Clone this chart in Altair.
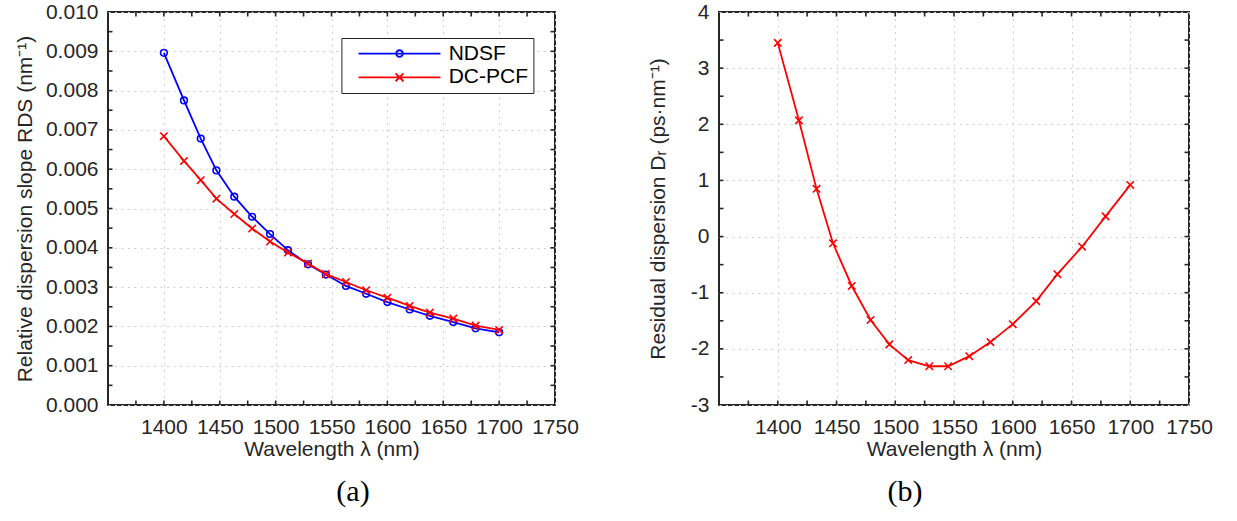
import altair as alt
import pandas as pd

# ---------------- data ----------------
wavelength = [1400, 1418, 1433, 1447, 1463, 1479, 1495, 1511, 1529,
              1545, 1563, 1581, 1600, 1620, 1638, 1659, 1679, 1700]
rds_ndsf = [0.00896, 0.00775, 0.00678, 0.00597, 0.00530, 0.00479, 0.00435, 0.00394, 0.00358,
            0.00332, 0.00303, 0.00283, 0.00262, 0.00243, 0.00227, 0.00211, 0.00195, 0.00185]
rds_dcpcf = [0.00684, 0.00621, 0.00572, 0.00525, 0.00486, 0.00449, 0.00416, 0.00388, 0.00360,
             0.00333, 0.00313, 0.00292, 0.00273, 0.00252, 0.00235, 0.00220, 0.00202, 0.00191]
residual_dispersion = [3.45, 2.07, 0.85, -0.12, -0.88, -1.485, -1.92, -2.20, -2.31,
                       -2.31, -2.13, -1.88, -1.56, -1.15, -0.67, -0.18, 0.36, 0.92]
series_names = ["NDSF", "DC-PCF"]
series_colors = ["#0000ff", "#ff0000"]

x_label_values = [1400, 1450, 1500, 1550, 1600, 1650, 1700, 1750]
x_tick_values = [1375, 1400, 1425, 1450, 1475, 1500, 1525, 1550, 1575,
                 1600, 1625, 1650, 1675, 1700, 1725]
rds_label_values = [0.000, 0.001, 0.002, 0.003, 0.004, 0.005, 0.006,
                    0.007, 0.008, 0.009, 0.010]
rds_tick_values = [0.0005, 0.0010, 0.0015, 0.0020, 0.0025, 0.0030, 0.0035, 0.0040, 0.0045,
                   0.0050, 0.0055, 0.0060, 0.0065, 0.0070, 0.0075, 0.0080, 0.0085, 0.0090, 0.0095]
dr_label_values = [-3, -2, -1, 0, 1, 2, 3, 4]
dr_tick_values = [-2.5, -2, -1.5, -1, -0.5, 0, 0.5, 1, 1.5, 2, 2.5, 3, 3.5]

# ---------------- styling ----------------
FONT = "Liberation Sans"
INK = "#262626"
W1, W2, H = 447, 470, 393
TL = 4.5
XPATH = "M-1,-1L1,1M-1,1L1,-1"
LEG_NDSF = ("M-4.55,0L4.55,0M-0.37,0A0.37,0.37,0,1,0,0.37,0"
            "A0.37,0.37,0,1,0,-0.37,0")
LEG_DCPCF = "M-4.55,0L4.55,0M-0.44,-0.44L0.44,0.44M-0.44,0.44L0.44,-0.44"

XSCALE = alt.Scale(domain=[1350, 1750], nice=False)
RDS_SCALE = alt.Scale(domain=[0, 0.010], nice=False)
DR_SCALE = alt.Scale(domain=[-3, 4], nice=False)
COLOR_SCALE = alt.Scale(domain=series_names, range=series_colors)

rds_df = pd.DataFrame({
    "wavelength": wavelength * 2,
    "rds": rds_ndsf + rds_dcpcf,
    "series": [series_names[0]] * len(wavelength) + [series_names[1]] * len(wavelength),
})
dr_df = pd.DataFrame({"wavelength": wavelength, "dr": residual_dispersion})


def x_axis():
    return alt.Axis(values=x_label_values, format="d", title="Wavelength λ (nm)",
                    grid=True, ticks=False, domain=False, labelOverlap=False,
                    labelPadding=11, titlePadding=1, labelFlush=False)


def tick_layers(y_ticks, yscale, w, h):
    xt = pd.DataFrame({"t": x_tick_values})
    yt = pd.DataFrame({"t": y_ticks})
    rule = dict(color=INK, strokeWidth=1.6)
    xenc = alt.X("t:Q", scale=XSCALE)
    yenc = alt.Y("t:Q", scale=yscale)
    return [
        alt.Chart(xt).mark_rule(**rule).encode(x=xenc, y=alt.value(h), y2=alt.value(h - TL)),
        alt.Chart(xt).mark_rule(**rule).encode(x=xenc, y=alt.value(0), y2=alt.value(TL)),
        alt.Chart(yt).mark_rule(**rule).encode(y=yenc, x=alt.value(0), x2=alt.value(TL)),
        alt.Chart(yt).mark_rule(**rule).encode(y=yenc, x=alt.value(w - TL), x2=alt.value(w)),
    ]


def series_layers(name, color, shape, size):
    base = alt.Chart(rds_df).transform_filter(alt.datum.series == name)
    line = base.mark_line(strokeWidth=1.8, color=color).encode(
        x=alt.X("wavelength:Q", scale=XSCALE), y=alt.Y("rds:Q", scale=RDS_SCALE))
    pts = base.mark_point(shape=shape, size=size, filled=False, strokeWidth=1.6,
                          color=color, opacity=1).encode(
        x=alt.X("wavelength:Q", scale=XSCALE), y=alt.Y("rds:Q", scale=RDS_SCALE))
    return [line, pts]


# ---------------- panel (a) ----------------
# invisible carrier layer that owns both axes of panel (a)
axes_a = alt.Chart(rds_df).mark_point(opacity=0, size=0).encode(
    x=alt.X("wavelength:Q", scale=XSCALE, axis=x_axis()),
    y=alt.Y("rds:Q", scale=RDS_SCALE,
            axis=alt.Axis(values=rds_label_values, format=".3f", tickCount=11,
                          title="Relative dispersion slope RDS (nm⁻¹)",
                          grid=True, ticks=False, domain=False, labelOverlap=False,
                          labelPadding=10, titlePadding=10, labelFlush=False)),
)

legend_params = dict(
    title=None, orient="none", legendX=233.4, legendY=26, padding=5.1,
    strokeColor=INK, fillColor="white", symbolSize=324, symbolOffset=42.5,
    labelOffset=38.7, rowPadding=1.7, labelFont=FONT, labelFontSize=21,
    labelColor="black", symbolStrokeWidth=1.8, symbolOpacity=1,
)
legend_layer = alt.Chart(rds_df).transform_filter("false").mark_point(
    filled=False, size=324, strokeWidth=1.8
).encode(
    shape=alt.Shape("series:N", scale=alt.Scale(domain=series_names, range=[LEG_NDSF, LEG_DCPCF]),
                    legend=alt.Legend(**legend_params)),
    color=alt.Color("series:N", scale=COLOR_SCALE, legend=alt.Legend(**legend_params)),
)

panel_a = alt.layer(
    axes_a,
    *series_layers(series_names[0], series_colors[0], "circle", 44),
    *series_layers(series_names[1], series_colors[1], XPATH, 55),
    legend_layer,
    *tick_layers(rds_tick_values, RDS_SCALE, W1, H),
).properties(
    width=W1, height=H,
    title=alt.TitleParams("(a)", orient="bottom", anchor="middle", frame="group", dx=21.5,
                          offset=18, font="Liberation Serif", fontSize=30,
                          fontWeight="normal", color="black"),
)

# ---------------- panel (b) ----------------
line_b = alt.Chart(dr_df).mark_line(strokeWidth=1.8, color=series_colors[1]).encode(
    x=alt.X("wavelength:Q", scale=XSCALE, axis=x_axis()),
    y=alt.Y("dr:Q", scale=DR_SCALE,
            axis=alt.Axis(values=dr_label_values, labelExpr="'' + datum.value",
                          title="Residual dispersion Dᵣ (ps·nm⁻¹)",
                          grid=True, ticks=False, domain=False, labelOverlap=False,
                          labelPadding=10, titlePadding=22, labelFlush=False)),
)
pts_b = alt.Chart(dr_df).mark_point(
    shape=XPATH, size=55, filled=False, strokeWidth=1.6, color=series_colors[1], opacity=1
).encode(x=alt.X("wavelength:Q", scale=XSCALE), y=alt.Y("dr:Q", scale=DR_SCALE))

panel_b = alt.layer(
    line_b, pts_b, *tick_layers(dr_tick_values, DR_SCALE, W2, H)
).properties(
    width=W2, height=H,
    title=alt.TitleParams("(b)", orient="bottom", anchor="middle", frame="group", dx=-49,
                          offset=18, font="Liberation Serif", fontSize=30,
                          fontWeight="normal", color="black"),
)

chart = alt.hconcat(panel_a, panel_b, spacing=164, bounds="flush").configure(
    font=FONT, padding={"left": 13, "top": 0, "right": 5, "bottom": 5}
).configure_view(
    stroke=INK, strokeWidth=2
).configure_axis(
    labelFont=FONT, labelFontSize=21, labelColor=INK, labelOverlap=False,
    titleFont=FONT, titleFontSize=21, titleFontWeight="normal", titleColor=INK,
    gridColor="#cfcfcf", gridDash=[2, 4.5], gridWidth=1,
)

chart.save("out.html", embed_options={"renderer": "svg", "actions": False})
